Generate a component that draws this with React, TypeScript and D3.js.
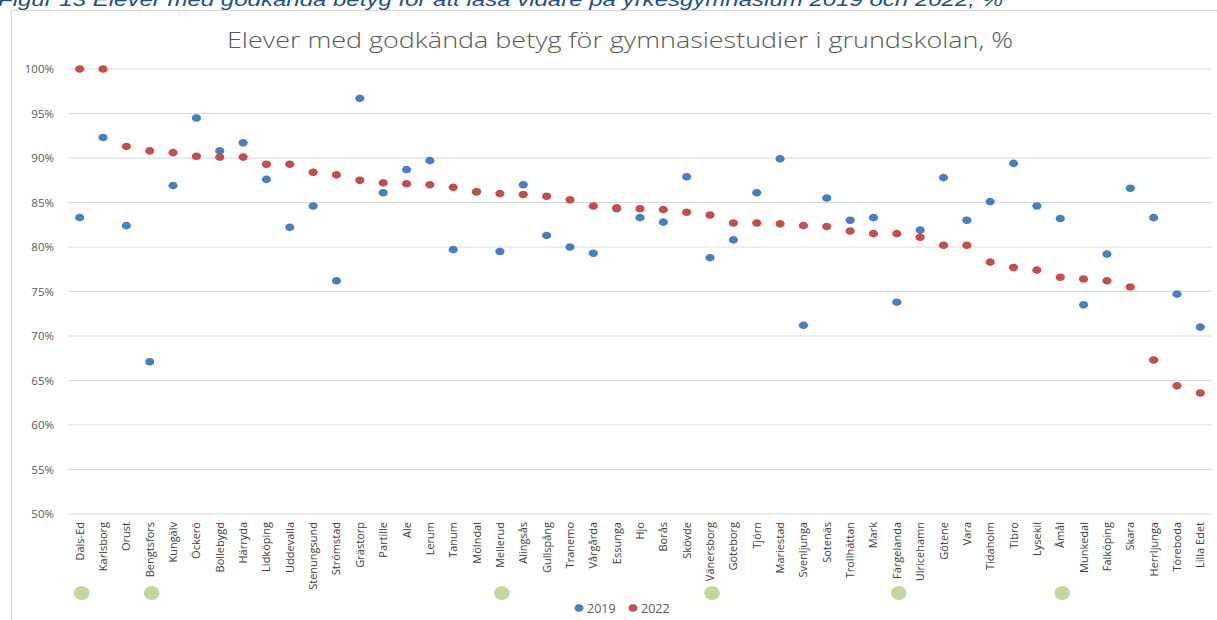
import { useEffect, useRef } from "react";
import * as d3 from "d3";

const municipalities = [
  "Dals-Ed", "Karlsborg", "Orust", "Bengtsfors", "Kungälv", "Öckerö", "Bollebygd", "Härryda",
  "Lidköping", "Uddevalla", "Stenungsund", "Strömstad", "Grästorp", "Partille", "Ale", "Lerum",
  "Tanum", "Mölndal", "Mellerud", "Alingsås", "Gullspång", "Tranemo", "Vårgårda", "Essunga",
  "Hjo", "Borås", "Skövde", "Vänersborg", "Göteborg", "Tjörn", "Mariestad", "Svenljunga",
  "Sotenäs", "Trollhättan", "Mark", "Färgelanda", "Ulricehamn", "Götene", "Vara", "Tidaholm",
  "Tibro", "Lysekil", "Åmål", "Munkedal", "Falköping", "Skara", "Herrljunga", "Töreboda", "Lilla Edet",
];

const values2019 = [
  83.3, 92.3, 82.4, 67.1, 86.9, 94.5, 90.8, 91.7, 87.6, 82.2, 84.6, 76.2, 96.7, 86.1, 88.7, 89.7,
  79.7, 86.2, 79.5, 87.0, 81.3, 80.0, 79.3, 84.3, 83.3, 82.8, 87.9, 78.8, 80.8, 86.1, 89.9, 71.2,
  85.5, 83.0, 83.3, 73.8, 81.9, 87.8, 83.0, 85.1, 89.4, 84.6, 83.2, 73.5, 79.2, 86.6, 83.3, 74.7, 71.0,
];

const values2022 = [
  100, 100, 91.3, 90.8, 90.6, 90.2, 90.1, 90.1, 89.3, 89.3, 88.4, 88.1, 87.5, 87.2, 87.1, 87.0,
  86.7, 86.2, 86.0, 85.9, 85.7, 85.3, 84.6, 84.4, 84.3, 84.2, 83.9, 83.6, 82.7, 82.7, 82.6, 82.4,
  82.3, 81.8, 81.5, 81.5, 81.1, 80.2, 80.2, 78.3, 77.7, 77.4, 76.6, 76.4, 76.2, 75.5, 67.3, 64.4, 63.6,
];

const markedMunicipalities = ["Dals-Ed", "Bengtsfors", "Mellerud", "Vänersborg", "Färgelanda", "Åmål"];

const yTicks = [50, 55, 60, 65, 70, 75, 80, 85, 90, 95, 100];

const seriesNames = ["2019", "2022"];
const seriesColors = ["#4A7EBF", "#C0504D"];

export default function App() {
  const svgRef = useRef<SVGSVGElement | null>(null);

  useEffect(() => {
    if (!svgRef.current) return;
    const width = 1217;
    const height = 620;
    const svg = d3.select(svgRef.current);
    svg.selectAll("*").remove();
    svg.attr("width", width).attr("height", height);

    svg.append("rect").attr("width", width).attr("height", height).attr("fill", "#fff");

    // figure caption, clipped at the top of the page
    svg.append("text")
      .attr("x", -2)
      .attr("y", 6)
      .attr("font-family", "Liberation Sans, Arial, sans-serif")
      .attr("font-style", "italic")
      .attr("font-size", 18)
      .attr("fill", "#1F4E8C")
      .attr("textLength", 1005)
      .attr("lengthAdjust", "spacingAndGlyphs")
      .text("Figur 13 Elever med godkända betyg för att läsa vidare på yrkesgymnasium 2019 och 2022, %");

    // chart frame
    svg.append("path")
      .attr("d", `M11.5,${height} V10.5 H${width}`)
      .attr("fill", "none")
      .attr("stroke", "#D9D9D9")
      .attr("stroke-width", 1);

    svg.append("text")
      .attr("x", 620)
      .attr("y", 48)
      .attr("text-anchor", "middle")
      .attr("font-family", "Open Sans, sans-serif")
      .attr("font-weight", 300)
      .attr("font-size", 22)
      .attr("fill", "#595959")
      .attr("textLength", 786)
      .attr("lengthAdjust", "spacingAndGlyphs")
      .text("Elever med godkända betyg för gymnasiestudier i grundskolan, %");

    const x = d3.scaleBand<string>().domain(municipalities).range([68, 1212]);
    const y = d3.scaleLinear().domain([50, 100]).range([514, 69]);

    const grid = svg.append("g");
    grid.selectAll("line")
      .data(yTicks)
      .enter()
      .append("line")
      .attr("x1", 68)
      .attr("x2", 1212)
      .attr("y1", d => y(d))
      .attr("y2", d => y(d))
      .attr("stroke", "#D9D9D9")
      .attr("stroke-width", 1.2);

    grid.selectAll("text")
      .data(yTicks)
      .enter()
      .append("text")
      .attr("x", 54)
      .attr("y", d => y(d) + 4)
      .attr("text-anchor", "end")
      .attr("font-family", "Open Sans, sans-serif")
      .attr("font-size", 11.5)
      .attr("fill", "#595959")
      .text(d => `${d}%`);

    // category labels, rotated
    svg.append("g")
      .selectAll("text")
      .data(municipalities)
      .enter()
      .append("text")
      .attr("transform", d => `translate(${(x(d) ?? 0) + x.bandwidth() / 2 + 4},522) rotate(-90)`)
      .attr("text-anchor", "end")
      .attr("font-family", "Open Sans, sans-serif")
      .attr("font-size", 11)
      .attr("fill", "#404040")
      .text(d => d);

    const cx = (d: string) => (x(d) ?? 0) + x.bandwidth() / 2;

    [values2019, values2022].forEach((vals, i) => {
      svg.append("g")
        .selectAll("ellipse")
        .data(vals)
        .enter()
        .append("ellipse")
        .attr("cx", (_d, j) => cx(municipalities[j]))
        .attr("cy", d => y(d))
        .attr("rx", 4.6)
        .attr("ry", 3.8)
        .attr("fill", seriesColors[i]);
    });

    // green markers under some municipalities
    svg.append("g")
      .selectAll("ellipse")
      .data(markedMunicipalities)
      .enter()
      .append("ellipse")
      .attr("cx", d => cx(d) + 2)
      .attr("cy", 593)
      .attr("rx", 7.8)
      .attr("ry", 7)
      .attr("fill", "#C3D69B");

    // legend
    const legend = svg.append("g").attr("transform", "translate(579,608)");
    seriesNames.forEach((name, i) => {
      const g = legend.append("g").attr("transform", `translate(${i * 54},0)`);
      g.append("ellipse").attr("rx", 4.4).attr("ry", 3.8).attr("fill", seriesColors[i]);
      g.append("text")
        .attr("x", 8)
        .attr("y", 5)
        .attr("font-family", "Open Sans, sans-serif")
        .attr("font-size", 12.5)
        .attr("fill", "#595959")
        .text(name);
    });
  }, []);

  return (
    <div style={{ position: "absolute", left: 0, top: 0 }}>
      <svg ref={svgRef} style={{ display: "block" }}></svg>
    </div>
  );
}
